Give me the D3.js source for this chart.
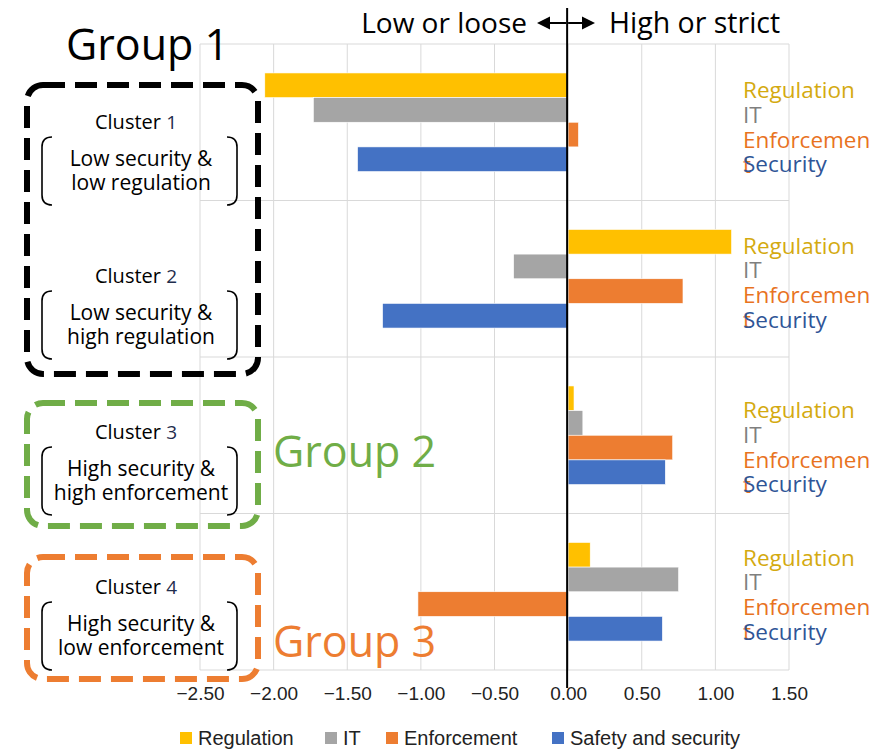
<!DOCTYPE html>
<html><head><meta charset="utf-8">
<script src="https://cdn.jsdelivr.net/npm/d3@7"></script>
<style>body{margin:0;background:#fff}</style>
</head><body>
<svg id="c" width="881" height="749"></svg>
<script>
// ---- data ----
const clusters = ["Cluster 1", "Cluster 2", "Cluster 3", "Cluster 4"];
const seriesNames = ["Regulation", "IT", "Enforcement", "Safety and security"];
const regulation = [-2.06, 1.11, 0.04, 0.15];
const itValues = [-1.73, -0.37, 0.10, 0.75];
const enforcement = [0.07, 0.78, 0.71, -1.02];
const security = [-1.43, -1.26, 0.66, 0.64];
const tickValues = [-2.5, -2, -1.5, -1, -0.5, 0, 0.5, 1, 1.5];
const sideLabels = ["Regulation", "IT", "Enforcemen", "Security"];
const clusterDesc = [["Low security &", "low regulation"], ["Low security &", "high regulation"],
                     ["High security &", "high enforcement"], ["High security &", "low enforcement"]];
const groupNames = ["Group 1", "Group 2", "Group 3"];

const colors = ["#FFC000", "#A5A5A5", "#ED7D31", "#4472C4"];
const labelColors = ["#D4AA10", "#7F7F7F", "#E8731F", "#2F5597"];
const FONT = "'Open Sans','Noto Sans',sans-serif";
const NARROW = "'Liberation Sans',sans-serif";

const svg = d3.select("#c");
const x = d3.scaleLinear().domain([-2.5, 1.5]).range([200, 789]);
const y = d3.scaleBand().domain(clusters).range([44, 670]).padding(0);
const sub = d3.scaleBand().domain(seriesNames).range([y.bandwidth() * 0.185, y.bandwidth() * 0.815]).padding(0);

const table = clusters.map((c, i) => ({cluster: c, values: [regulation[i], itValues[i], enforcement[i], security[i]]}));

// grid
const g = svg.append("g");
g.selectAll("line.v").data(tickValues).join("line")
  .attr("x1", d => x(d)).attr("x2", d => x(d)).attr("y1", 44).attr("y2", 670)
  .attr("stroke", "#D9D9D9").attr("stroke-width", 1);
const hs = clusters.map(c => y(c)).concat([y.range()[1]]);
g.selectAll("line.h").data(hs).join("line")
  .attr("x1", 200).attr("x2", 789).attr("y1", d => d).attr("y2", d => d)
  .attr("stroke", "#D9D9D9").attr("stroke-width", 1);

// bars
table.forEach(row => {
  svg.append("g").selectAll("rect").data(row.values).join("rect")
    .attr("x", d => x(Math.min(0, d)))
    .attr("width", d => Math.abs(x(d) - x(0)))
    .attr("y", (d, j) => y(row.cluster) + sub(seriesNames[j]))
    .attr("height", sub.bandwidth())
    .attr("fill", (d, j) => colors[j])
    .attr("stroke", "#fff").attr("stroke-width", 0.6);
});

// axis labels
const axis = d3.axisBottom(x).tickValues(tickValues).tickFormat(d3.format(".2f")).tickSize(0).tickPadding(0);
const ax = svg.append("g").attr("transform", "translate(0,686)").call(axis);
ax.select(".domain").remove();
ax.selectAll("text").attr("font-family", NARROW)
  .attr("font-size", 19).attr("fill", "#222").attr("dy", "0.71em");

// zero line
svg.append("line").attr("x1", x(0) - 1).attr("x2", x(0) - 1).attr("y1", 8).attr("y2", 688)
  .attr("stroke", "#000").attr("stroke-width", 2);

// top labels and arrows
svg.append("text").attr("x", 527).attr("y", 33).attr("text-anchor", "end")
  .attr("font-family", FONT).attr("font-size", 28).text("Low or loose");
svg.append("text").attr("x", 609).attr("y", 33)
  .attr("font-family", FONT).attr("font-size", 28.5).text("High or strict");
const ay = 23;
svg.append("line").attr("x1", x(0) - 2).attr("x2", 546).attr("y1", ay).attr("y2", ay).attr("stroke", "#000").attr("stroke-width", 2);
svg.append("path").attr("d", `M537,${ay} L550,${ay - 6.5} L550,${ay + 6.5} Z`).attr("fill", "#000");
svg.append("line").attr("x1", x(0)).attr("x2", 586).attr("y1", ay).attr("y2", ay).attr("stroke", "#000").attr("stroke-width", 2);
svg.append("path").attr("d", `M595,${ay} L582,${ay - 6.5} L582,${ay + 6.5} Z`).attr("fill", "#000");

// side labels
const labelShift = [5, 4, 12, 3];
clusters.forEach((c, i) => {
  const gg = svg.append("g");
  sideLabels.forEach((s, j) => {
    const cy = y(c) + sub(seriesNames[j]) + sub.bandwidth() / 2 + labelShift[i];
    if (j === 2) {
      gg.append("text").attr("x", 743).attr("y", cy + 25 + 8).attr("font-family", FONT)
        .attr("font-size", 22.5).attr("fill", labelColors[2]).text("t");
    }
  });
  sideLabels.forEach((s, j) => {
    const cy = y(c) + sub(seriesNames[j]) + sub.bandwidth() / 2 + labelShift[i];
    gg.append("text").attr("x", 743).attr("y", cy + 8).attr("font-family", FONT)
      .attr("font-size", 22.5).attr("fill", labelColors[j]).text(s);
  });
});

// dashed boxes
const boxes = [
  {x: 27, y: 85, w: 231, h: 289, color: "#000"},
  {x: 27, y: 403, w: 231, h: 123, color: "#70AD47"},
  {x: 27, y: 557, w: 231, h: 122, color: "#ED7D31"}
];
svg.append("g").selectAll("rect").data(boxes).join("rect")
  .attr("x", d => d.x).attr("y", d => d.y).attr("width", d => d.w).attr("height", d => d.h)
  .attr("rx", 16).attr("fill", "none").attr("stroke", d => d.color)
  .attr("stroke-width", 6).attr("stroke-dasharray", "22,10");

// group names
svg.append("text").attr("x", 66).attr("y", 60).attr("font-family", FONT).attr("font-size", 43)
  .attr("fill", "#000").text(groupNames[0]);
svg.append("text").attr("x", 273).attr("y", 467).attr("font-family", FONT).attr("font-size", 43)
  .attr("fill", "#70AD47").text(groupNames[1]);
svg.append("text").attr("x", 273).attr("y", 657).attr("font-family", FONT).attr("font-size", 43)
  .attr("fill", "#ED7D31").text(groupNames[2]);

// cluster descriptions
const clusterTop = [122, 276, 432, 587];
clusters.forEach((c, i) => {
  const cy = clusterTop[i];
  const t = svg.append("text").attr("x", 136).attr("y", cy + 7).attr("text-anchor", "middle")
    .attr("font-family", FONT).attr("font-size", 20).attr("fill", "#000");
  t.append("tspan").text("Cluster ");
  t.append("tspan").attr("font-size", 19).attr("fill", "#1F2D4D").text(String(i + 1));
  clusterDesc[i].forEach((line, k) => {
    svg.append("text").attr("x", 141).attr("y", cy + 36 + 8 + k * 24).attr("text-anchor", "middle")
      .attr("font-family", FONT).attr("font-size", 21).attr("fill", "#000").text(line);
  });
  const top = cy + 15, bot = cy + 83, l = 42, r = 237, rr = 10;
  svg.append("path").attr("d", `M${l + rr},${top} Q${l},${top} ${l},${top + rr} L${l},${bot - rr} Q${l},${bot} ${l + rr},${bot}`)
    .attr("fill", "none").attr("stroke", "#000").attr("stroke-width", 1.6);
  svg.append("path").attr("d", `M${r - rr},${top} Q${r},${top} ${r},${top + rr} L${r},${bot - rr} Q${r},${bot} ${r - rr},${bot}`)
    .attr("fill", "none").attr("stroke", "#000").attr("stroke-width", 1.6);
});

// legend
const legendX = [180, 325, 386, 552];
const lg = svg.append("g");
seriesNames.forEach((s, j) => {
  lg.append("rect").attr("x", legendX[j]).attr("y", 732).attr("width", 12).attr("height", 12).attr("fill", colors[j]);
  lg.append("text").attr("x", legendX[j] + 18).attr("y", 745)
    .attr("font-family", NARROW).attr("font-size", 20)
    .attr("fill", "#222").text(s);
});
</script>
</body></html>
